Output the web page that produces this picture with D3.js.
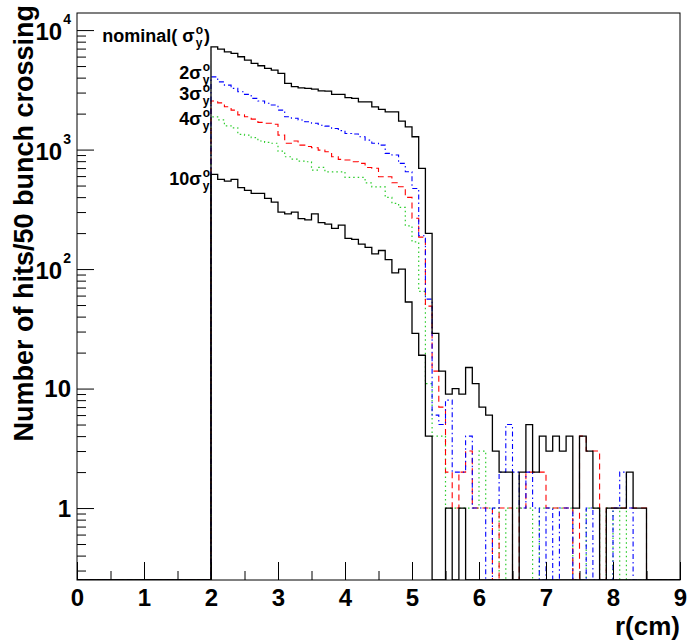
<!DOCTYPE html>
<html>
<head>
<meta charset="utf-8">
<script src="https://cdn.jsdelivr.net/npm/d3@7"></script>
<style>
  html, body { margin: 0; padding: 0; background: #fff; }
  svg { display: block; }
  text { font-family: "Liberation Sans", Arial, Helvetica, sans-serif; font-weight: bold; fill: #000; }
</style>
</head>
<body>
<svg id="chart" width="691" height="644"></svg>
<script>
// histogram bins are 0.1 cm wide, the first filled bin starts at r = 2.0 cm
const binLow = 2.0
const binWidth = 0.1
const rDomain = [0, 9]

// hits per bin, bins 2.0 .. 8.5 cm
const nominal = [7240, 6930, 6580, 6380, 5980, 5610, 5260, 5030, 4780, 4620,
  4340, 3580, 3360, 3290, 3250, 3200, 3100, 3090, 2900, 2900,
  2720, 2680, 2510, 2510, 2280, 2170, 2070, 2070, 1730, 1550,
  1280, 697, 199, 29, 14, 9, 10, 9, 15, 11,
  7, 6, 3, 2, 2, 0, 2, 5, 2, 4,
  3, 4, 3, 4, 1, 4, 3, 1, 0, 1,
  1, 1, 2, 1, 1]
const sigma2 = [4060, 3690, 3460, 3250, 3050, 2900, 2680, 2550, 2440, 2360,
  2140, 1880, 1830, 1770, 1710, 1660, 1600, 1570, 1500, 1440,
  1365, 1350, 1280, 1200, 1130, 1090, 930, 900, 766, 652,
  473, 190, 56, 6, 5, 8, 2, 2, 4, 1,
  1, 0, 1, 2, 5, 2, 1, 2, 1, 0,
  1, 0, 1, 1, 0, 0, 1, 0, 0, 0,
  1, 2, 1, 0, 0]
const sigma3 = [2550, 2460, 2280, 2140, 1950, 1880, 1800, 1690, 1660, 1630,
  1320, 1130, 1180, 1090, 1060, 1035, 990, 960, 871, 828,
  817, 791, 766, 709, 697, 592, 592, 527, 488, 398,
  266, 185, 49, 14, 7, 2, 1, 2, 3, 1,
  1, 1, 0, 1, 1, 0, 1, 2, 2, 2,
  1, 1, 1, 1, 0, 4, 3, 3, 0, 1,
  1, 1, 1, 1, 1]
const sigma4 = [1880, 1770, 1580, 1520, 1340, 1320, 1260, 1180, 1150, 1130,
  971, 871, 833, 802, 791, 673, 710, 652, 652, 652,
  585, 585, 585, 527, 488, 487, 398, 355, 328, 230,
  169, 65, 11, 4, 4, 1, 1, 1, 1, 1,
  3, 1, 1, 0, 1, 1, 1, 1, 0, 1,
  1, 1, 1, 1, 0, 0, 1, 1, 0, 1,
  0, 1, 0, 0, 0]
const sigma10 = [620, 563, 545, 563, 480, 455, 430, 430, 390, 363,
  300, 290, 300, 264, 258, 290, 245, 238, 219, 233,
  181, 177, 162, 152, 134, 143, 120, 93, 100, 53,
  29, 19, 4, 0, 0, 1, 0, 1]

const labelPrefix = ['nominal( ', '2', '3', '4', '10']
// where each label sits (value on the y scale of its baseline)
const labelValue = [7880, 3930, 2620, 1615, 506]

const xTicks = [0, 1, 2, 3, 4, 5, 6, 7, 8, 9]
const yTicks = [1, 10, 100, 1000, 10000]
const yTickBase = ['1', '10', '10', '10', '10']
const yTickExp = ['', '', '2', '3', '4']

const xTitle = 'r(cm)'
const yTitle = 'Number of hits/50 bunch crossing'

// ---------------------------------------------------------------
const svg = d3.select('#chart')
const frame = { left: 77, right: 680, top: 13, bottom: 580 }

const x = d3.scaleLinear().domain(rDomain).range([frame.left, frame.right])
const y = d3.scaleLog().domain([0.25, 13900]).range([frame.bottom, frame.top]).clamp(true)

svg.append('defs').append('clipPath').attr('id', 'frameClip')
  .append('rect')
  .attr('x', frame.left).attr('y', frame.top - 1)
  .attr('width', frame.right - frame.left)
  .attr('height', frame.bottom - frame.top + 1)

// step outline like a ROOT histogram; empty bins drop to the bottom of the frame
function stepPath(vals) {
  const nBins = Math.round((rDomain[1] - rDomain[0]) / binWidth)
  const offset = Math.round((binLow - rDomain[0]) / binWidth)
  const yv = v => v > 0 ? y(v) : frame.bottom
  const p = d3.path()
  for (let k = 0; k < nBins; k++) {
    const i = k - offset
    const v = (i >= 0 && i < vals.length) ? vals[i] : 0
    const x0 = x(rDomain[0] + k * binWidth)
    const x1 = x(rDomain[0] + (k + 1) * binWidth)
    if (k === 0) p.moveTo(x0, yv(v))
    else p.lineTo(x0, yv(v))
    p.lineTo(x1, yv(v))
  }
  return p.toString()
}

// coloured ones first, the two solid black ones on top
const series = [
  { vals: sigma4, color: '#2ccc2c', dash: '1.5,3', width: 1.2 },
  { vals: sigma3, color: '#ff0000', dash: '6,4', width: 1.1 },
  { vals: sigma2, color: '#0000ff', dash: '5,3,1.5,3', width: 1.1 },
  { vals: sigma10, color: '#000', dash: null, width: 1.3 },
  { vals: nominal, color: '#000', dash: null, width: 1.3 }
]

const plot = svg.append('g').attr('clip-path', 'url(#frameClip)')
plot.selectAll('path.hist')
  .data(series)
  .join('path')
  .attr('class', 'hist')
  .attr('d', d => stepPath(d.vals))
  .attr('fill', 'none')
  .attr('stroke', d => d.color)
  .attr('stroke-width', d => d.width)
  .attr('stroke-dasharray', d => d.dash)

// x axis, ticks point into the frame
const xAxis = svg.append('g')
  .attr('transform', `translate(0,${frame.bottom})`)
  .call(d3.axisBottom(x).tickValues(xTicks).tickSize(-18).tickPadding(9).tickFormat(d3.format('d')))
xAxis.select('.domain').remove()
xAxis.selectAll('line').attr('stroke', '#000')
xAxis.attr('font-family', null)
xAxis.selectAll('text').style('font-size', '24px')

const xMinor = svg.append('g')
  .attr('transform', `translate(0,${frame.bottom})`)
  .call(d3.axisBottom(x).tickValues(d3.range(0.5, 9, 1)).tickSize(-9).tickFormat(''))
xMinor.select('.domain').remove()
xMinor.selectAll('line').attr('stroke', '#000')

// y axis (log), major at decades, minor at 2..9
const yAxis = svg.append('g')
  .attr('transform', `translate(${frame.left},0)`)
  .call(d3.axisLeft(y).tickValues(yTicks).tickSize(-17).tickFormat(''))
yAxis.select('.domain').remove()
yAxis.selectAll('line').attr('stroke', '#000')

const minorVals = []
for (const dec of [0.1, 1, 10, 100, 1000]) {
  for (let m = 2; m <= 9; m++) {
    const v = dec * m
    if (v >= 0.25 && v <= 13900) minorVals.push(v)
  }
}
const yMinor = svg.append('g')
  .attr('transform', `translate(${frame.left},0)`)
  .call(d3.axisLeft(y).tickValues(minorVals).tickSize(-9).tickFormat(''))
yMinor.select('.domain').remove()
yMinor.selectAll('line').attr('stroke', '#000')

// y tick labels with exponents, right aligned like ROOT
const yLab = svg.append('g')
yTicks.forEach((t, i) => {
  const ty = y(t)
  if (yTickExp[i]) {
    const ex = yLab.append('text')
      .attr('x', 71).attr('y', ty - 6)
      .attr('text-anchor', 'end')
      .style('font-size', '14px')
      .text(yTickExp[i])
    const w = ex.node().getComputedTextLength()
    yLab.append('text')
      .attr('x', 71 - w - 1).attr('y', ty + 10)
      .attr('text-anchor', 'end')
      .style('font-size', '24px')
      .text(yTickBase[i])
  } else {
    yLab.append('text')
      .attr('x', 71).attr('y', ty + 8.5)
      .attr('text-anchor', 'end')
      .style('font-size', '24px')
      .text(yTickBase[i])
  }
})

// frame
svg.append('rect')
  .attr('x', frame.left).attr('y', frame.top)
  .attr('width', frame.right - frame.left)
  .attr('height', frame.bottom - frame.top)
  .attr('fill', 'none')
  .attr('stroke', '#000')
  .attr('stroke-width', 1)

// axis titles
svg.append('text')
  .attr('x', 680).attr('y', 635)
  .attr('text-anchor', 'end')
  .style('font-size', '26px')
  .text(xTitle)

svg.append('text')
  .attr('transform', 'translate(33,5) rotate(-90)')
  .attr('text-anchor', 'end')
  .style('font-size', '27px')
  .text(yTitle)

// curve labels: prefix + sigma with superscript o and subscript y
const labRight = 210
const labG = svg.append('g')
labelPrefix.forEach((pre, i) => {
  const by = y(labelValue[i])
  const g = labG.append('g')
  const main = g.append('text').attr('x', 0).attr('y', by).style('font-size', '18px')
  main.append('tspan').text(pre)
  main.append('tspan').text('σ')
  const w = main.node().getComputedTextLength()
  const sup = g.append('text').attr('x', w + 1).attr('y', by - 8).style('font-size', '12px').text('o')
  const sub = g.append('text').attr('x', w + 1).attr('y', by + 5).style('font-size', '12px').text('y')
  let end = w + 1 + Math.max(sup.node().getComputedTextLength(), sub.node().getComputedTextLength())
  if (i === 0) {
    const cl = g.append('text').attr('x', end + 1).attr('y', by).style('font-size', '18px').text(')')
    end += 1 + cl.node().getComputedTextLength()
  }
  g.attr('transform', `translate(${labRight - end},0)`)
})
</script>
</body>
</html>
